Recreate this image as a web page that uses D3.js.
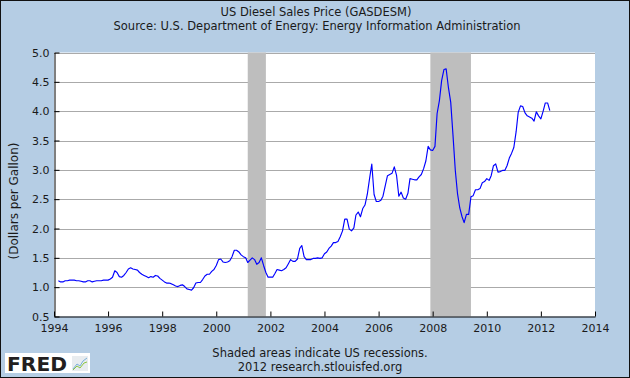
<!DOCTYPE html>
<html>
<head>
<meta charset="utf-8">
<script src="https://cdn.jsdelivr.net/npm/d3@7"></script>
<style>
  body { margin: 0; background: #fff; }
  text { font-family: "DejaVu Sans", Verdana, sans-serif; fill: #1a1a1a; }
</style>
</head>
<body>
<div id="chart"></div>
<script>
// monthly US No.2 diesel retail price, $/gal, first value = March 1994
const firstMonth = new Date(1994, 2, 1);
const prices = [
  1.11, 1.09, 1.09, 1.11, 1.11, 1.12, 1.12, 1.12, 1.11, 1.11,             // 1994 Mar-Dec
  1.10, 1.09, 1.09, 1.11, 1.11, 1.09, 1.10, 1.11, 1.11, 1.11, 1.12, 1.12, // 1995
  1.12, 1.14, 1.17, 1.28, 1.25, 1.18, 1.17, 1.20, 1.25, 1.31, 1.33, 1.31, // 1996
  1.30, 1.29, 1.25, 1.22, 1.20, 1.18, 1.16, 1.18, 1.17, 1.20, 1.19, 1.15, // 1997
  1.12, 1.09, 1.07, 1.07, 1.06, 1.04, 1.02, 1.01, 1.03, 1.04, 1.01, 0.97, // 1998
  0.96, 0.95, 0.99, 1.07, 1.08, 1.08, 1.13, 1.19, 1.22, 1.22, 1.27, 1.30, // 1999
  1.37, 1.47, 1.48, 1.43, 1.42, 1.43, 1.45, 1.52, 1.63, 1.63, 1.60, 1.55, // 2000
  1.52, 1.50, 1.42, 1.46, 1.50, 1.47, 1.39, 1.42, 1.50, 1.37, 1.25, 1.17, // 2001
  1.17, 1.17, 1.23, 1.30, 1.29, 1.28, 1.30, 1.33, 1.40, 1.47, 1.44, 1.44, // 2002
  1.48, 1.66, 1.71, 1.52, 1.47, 1.47, 1.47, 1.49, 1.49, 1.50, 1.49, 1.50, // 2003
  1.57, 1.60, 1.66, 1.70, 1.76, 1.76, 1.78, 1.86, 1.96, 2.16, 2.16, 1.99, // 2004
  1.96, 2.01, 2.23, 2.28, 2.20, 2.34, 2.40, 2.58, 2.85, 3.10, 2.58, 2.46, // 2005
  2.46, 2.48, 2.55, 2.73, 2.90, 2.92, 2.94, 3.05, 2.90, 2.55, 2.62, 2.52, // 2006
  2.50, 2.60, 2.85, 2.84, 2.83, 2.83, 2.88, 2.92, 3.02, 3.15, 3.40, 3.34, // 2007
  3.33, 3.40, 3.96, 4.18, 4.52, 4.71, 4.72, 4.40, 4.15, 3.60, 3.00, 2.60, // 2008
  2.35, 2.20, 2.10, 2.24, 2.24, 2.54, 2.56, 2.66, 2.66, 2.68, 2.78, 2.80, // 2009
  2.85, 2.82, 2.90, 3.07, 3.10, 2.96, 2.97, 2.99, 2.99, 3.07, 3.20, 3.28, // 2010
  3.38, 3.65, 3.98, 4.09, 4.08, 3.97, 3.92, 3.90, 3.88, 3.83, 3.99, 3.92, // 2011
  3.87, 4.00, 4.14, 4.14, 4.01                                            // 2012 Jan-May
];

const recessionStarts = [new Date(2001, 2, 1), new Date(2007, 11, 1)];
const recessionEnds = [new Date(2001, 10, 1), new Date(2009, 5, 1)];

const xTickYears = [1994, 1996, 1998, 2000, 2002, 2004, 2006, 2008, 2010, 2012, 2014];
const yTickValues = [0.5, 1.0, 1.5, 2.0, 2.5, 3.0, 3.5, 4.0, 4.5, 5.0];

const title = "US Diesel Sales Price (GASDESM)";
const subtitle = "Source: U.S. Department of Energy: Energy Information Administration";
const yLabel = "(Dollars per Gallon)";
const notes = ["Shaded areas indicate US recessions.", "2012 research.stlouisfed.org"];

const width = 630, height = 378;
const plotLeft = 54, plotRight = 595, plotTop = 52.5, plotBottom = 316.5;

const series = prices.map((v, i) => ({ date: d3.timeMonth.offset(firstMonth, i), value: v }));

const x = d3.scaleTime()
    .domain([new Date(xTickYears[0], 0, 1), new Date(xTickYears[xTickYears.length - 1], 0, 1)])
    .range([plotLeft, plotRight]);

const y = d3.scaleLinear()
    .domain([yTickValues[0], yTickValues[yTickValues.length - 1]])
    .range([plotBottom, plotTop]);

const svg = d3.select("#chart").append("svg")
    .attr("width", width)
    .attr("height", height);

svg.append("rect")
    .attr("width", width)
    .attr("height", height)
    .attr("fill", "#b5cde4")
    .attr("stroke", "#111")
    .attr("stroke-width", 2);

// plot area
svg.append("rect")
    .attr("x", plotLeft)
    .attr("y", plotTop)
    .attr("width", plotRight - plotLeft)
    .attr("height", plotBottom - plotTop)
    .attr("fill", "#fff");

svg.append("g")
    .selectAll("line")
    .data(yTickValues.slice(1))
    .join("line")
    .attr("x1", plotLeft)
    .attr("x2", plotRight)
    .attr("y1", d => Math.round(y(d)) + 0.5)
    .attr("y2", d => Math.round(y(d)) + 0.5)
    .attr("stroke", "#aaaaaa");

svg.append("g")
    .selectAll("rect")
    .data(recessionStarts.map((s, i) => [s, recessionEnds[i]]))
    .join("rect")
    .attr("x", d => x(d[0]))
    .attr("width", d => x(d[1]) - x(d[0]))
    .attr("y", plotTop)
    .attr("height", plotBottom - plotTop)
    .attr("fill", "#bebebe");

const line = d3.line()
    .x(d => x(d.date))
    .y(d => y(d.value));

svg.append("path")
    .datum(series)
    .attr("fill", "none")
    .attr("stroke", "#0000ff")
    .attr("stroke-width", 1.15)
    .attr("stroke-linejoin", "round")
    .attr("d", line);

// axes
const xAxis = d3.axisBottom(x)
    .tickValues(xTickYears.map(yr => new Date(yr, 0, 1)))
    .tickFormat(d3.timeFormat("%Y"))
    .tickSizeInner(-5)
    .tickSizeOuter(0)
    .tickPadding(8);

const yAxis = d3.axisLeft(y)
    .tickValues(yTickValues)
    .tickFormat(d3.format(".1f"))
    .tickSizeInner(-5)
    .tickSizeOuter(0)
    .tickPadding(5);

svg.append("g")
    .attr("transform", `translate(0,${plotBottom})`)
    .call(xAxis)
    .call(g => g.selectAll("text").attr("font-size", 11).attr("fill", "#1a1a1a"));

svg.append("g")
    .attr("transform", `translate(${plotLeft + 0.5},0)`)
    .call(yAxis)
    .call(g => g.selectAll("text").attr("font-size", 11).attr("fill", "#1a1a1a"));

svg.selectAll(".domain, .tick line").attr("stroke", "#000");
svg.selectAll(".tick text").attr("font-family", "DejaVu Sans");

// titles
svg.append("text")
    .attr("x", 316)
    .attr("y", 16)
    .attr("text-anchor", "middle")
    .attr("font-size", 11.5)
    .text(title);

svg.append("text")
    .attr("x", 317)
    .attr("y", 30)
    .attr("text-anchor", "middle")
    .attr("font-size", 11.5)
    .text(subtitle);

svg.append("text")
    .attr("transform", "translate(18,201) rotate(-90)")
    .attr("text-anchor", "middle")
    .attr("font-size", 12)
    .text(yLabel);

svg.append("g")
    .selectAll("text")
    .data(notes)
    .join("text")
    .attr("x", 320)
    .attr("y", (d, i) => 357 + i * 14)
    .attr("text-anchor", "middle")
    .attr("font-size", 11.5)
    .text(d => d);

// FRED logo
const logo = svg.append("g").attr("transform", "translate(5,353)");
logo.append("rect")
    .attr("width", 85)
    .attr("height", 20)
    .attr("fill", "#fff");
logo.append("text")
    .attr("x", 2)
    .attr("y", 18)
    .attr("font-family", "Liberation Sans, Arial, sans-serif")
    .attr("font-weight", "bold")
    .attr("font-size", 20)
    .attr("textLength", 60)
    .attr("lengthAdjust", "spacingAndGlyphs")
    .style("fill", "#231f20")
    .text("FRED");
logo.append("rect")
    .attr("x", 67)
    .attr("y", 3)
    .attr("width", 16)
    .attr("height", 15)
    .attr("fill", "#e8ecef");
logo.append("path")
    .attr("d", "M68,16 L72,11 L75,13 L78,8 L82,5")
    .attr("fill", "none")
    .attr("stroke", "#7ab0d8")
    .attr("stroke-width", 1);
logo.append("path")
    .attr("d", "M68,17 L72,13 L75,15 L79,10 L82,9")
    .attr("fill", "none")
    .attr("stroke", "#8cc63f")
    .attr("stroke-width", 1);
</script>
</body>
</html>
